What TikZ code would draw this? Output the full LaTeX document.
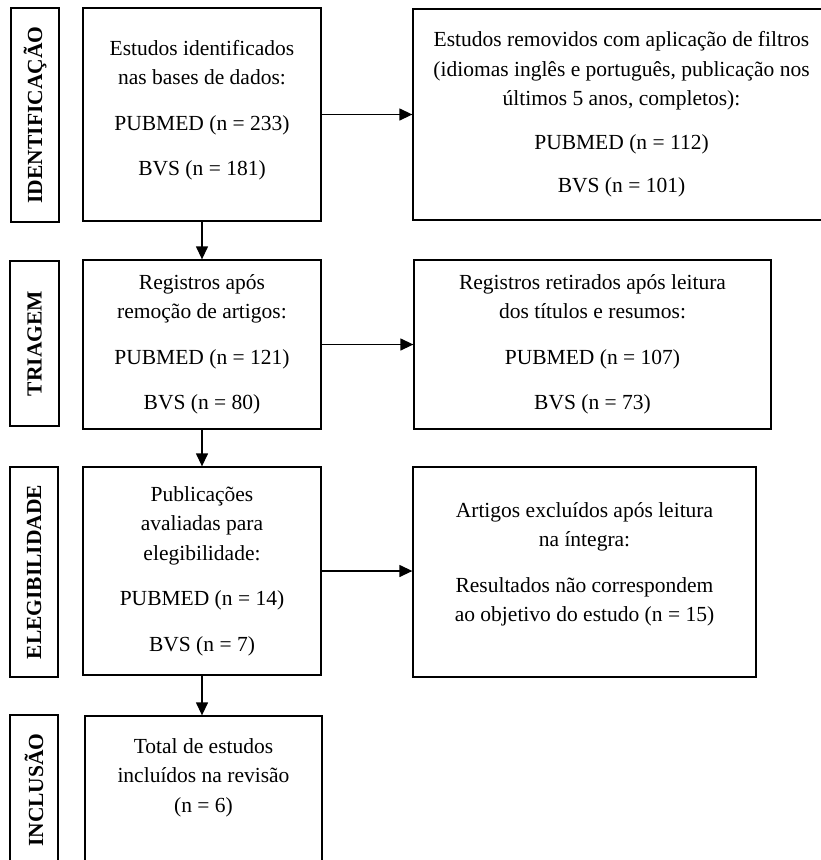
\documentclass[tikz,border=0pt]{standalone}
\usepackage{fontspec}
\setmainfont{Liberation Serif}
\usetikzlibrary{arrows.meta}
\begin{document}
\begin{tikzpicture}[x=1pt,y=-1pt,
  box/.style={draw, line width=1.3pt, inner sep=0pt, align=center,
    font=\fontsize{21.5}{29.5}\selectfont},
  txt/.style={inner sep=0pt, align=center, font=\fontsize{21.5}{29.5}\selectfont},
  lab/.style={draw, line width=1.3pt, inner sep=0pt,
    font=\fontsize{21.5}{25}\selectfont\bfseries},
  arr/.style={-{Triangle[length=13pt,width=12pt]}, line width=1.3pt}]
\useasboundingbox (0,0) rectangle (821,860);

% phase labels
\node[lab, minimum width=48pt, minimum height=214pt] (l1) at (35,115) {\rotatebox{90}{IDENTIFICAÇÃO}};
\node[lab, minimum width=49pt, minimum height=165pt] (l2) at (34.5,343.5) {\rotatebox{90}{TRIAGEM}};
\node[lab, minimum width=48pt, minimum height=210pt] (l3) at (34,572) {\rotatebox{90}{ELEGIBILIDADE}};
\node[lab, minimum width=48pt, minimum height=150pt] (l4) at (34,790) {\rotatebox{90}{INCLUSÃO}};

% main column
\node[box, minimum width=238pt, minimum height=213pt] (b1) at (202,114.5)
  {Estudos identificados\\nas bases de dados:\\[16pt]PUBMED (n = 233)\\[16pt]BVS (n = 181)\\[-16pt]};
\node[box, minimum width=238pt, minimum height=169pt] (b2) at (202,344.5)
  {Registros após\\remoção de artigos:\\[16pt]PUBMED (n = 121)\\[16pt]BVS (n = 80)};
\node[box, minimum width=238pt, minimum height=208pt] (b3) at (202,571)
  {Publicações\\avaliadas para\\elegibilidade:\\[16pt]PUBMED (n = 14)\\[16pt]BVS (n = 7)};
\node[box, minimum width=237pt, minimum height=164pt] (b4) at (203.5,798) {};
\node[txt, anchor=north] (t4) at (203.5,738)
  {Total de estudos\\incluídos na revisão\\(n = 6)};

% right column
\node[box, minimum width=417pt, minimum height=211pt] (r1) at (621.5,114.5)
  {Estudos removidos com aplicação de filtros\\(idiomas inglês e português, publicação nos\\últimos 5 anos, completos):\\[14pt]PUBMED (n = 112)\\[14pt]BVS (n = 101)};
\node[box, minimum width=357pt, minimum height=169pt] (r2) at (592.5,344.5)
  {Registros retirados após leitura\\dos títulos e resumos:\\[16pt]PUBMED (n = 107)\\[16pt]BVS (n = 73)};
\node[box, minimum width=343pt, minimum height=210pt] (r3) at (584.5,572)
  {Artigos excluídos após leitura\\na íntegra:\\[16pt]Resultados não correspondem\\ao objetivo do estudo (n = 15)\\[-10pt]};

% connectors
\draw[arr] (b1.south) -- (b2.north);
\draw[arr] (b2.south) -- (b3.north);
\draw[arr] (b3.south) -- (b3.south |- b4.north);
\draw[arr] (b1.east) -- (b1.east -| r1.west);
\draw[arr] (b2.east) -- (b2.east -| r2.west);
\draw[arr] (b3.east) -- (b3.east -| r3.west);
\end{tikzpicture}
\end{document}
